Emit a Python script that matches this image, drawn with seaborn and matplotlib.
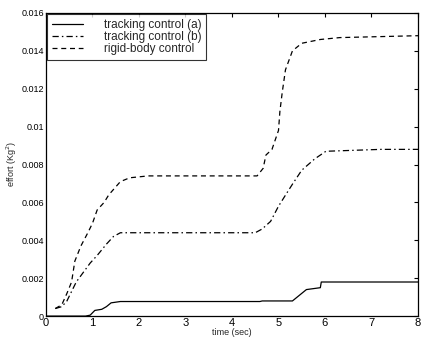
import matplotlib
matplotlib.use("Agg")
import matplotlib.pyplot as plt
import seaborn as sns
import numpy as np

# ---- data ----
t_a = [0, 0.85, 0.95, 1.05, 1.2, 1.3, 1.4, 1.6, 2.5, 4.6, 4.65, 5.3, 5.45, 5.6, 5.9, 5.92, 8]
eff_a = [0, 0, 0.00005, 0.0003, 0.00036, 0.0005, 0.0007, 0.00077, 0.00077, 0.00077, 0.0008,
         0.0008, 0.0011, 0.0014, 0.0015, 0.0018, 0.0018]

t_b = [0.2, 0.34, 0.45, 0.55, 0.65, 0.8, 0.95, 1.1, 1.3, 1.45, 1.6, 2.5, 4.5, 4.65, 4.83,
       5.0, 5.18, 5.31, 5.5, 5.78, 6.02, 7.2, 8]
eff_b = [0.0004, 0.0005, 0.0008, 0.0013, 0.0018, 0.0023, 0.0028, 0.0032, 0.0038, 0.0042,
         0.0044, 0.0044, 0.0044, 0.0046, 0.005, 0.0058, 0.0065, 0.007, 0.0077, 0.0083,
         0.0087, 0.0088, 0.0088]

t_r = [0.2, 0.34, 0.45, 0.55, 0.62, 0.75, 0.9, 1.0, 1.1, 1.25, 1.35, 1.6, 1.8, 2.2, 4.54,
       4.67, 4.73, 4.86, 5.0, 5.03, 5.08, 5.15, 5.3, 5.5, 5.9, 6.32, 8]
eff_r = [0.0004, 0.0006, 0.0012, 0.0018, 0.0029, 0.0037, 0.0044, 0.0049, 0.0056, 0.006,
         0.0064, 0.0071, 0.0073, 0.0074, 0.0074, 0.0078, 0.0085, 0.0088, 0.0098, 0.0108,
         0.0118, 0.013, 0.014, 0.0144, 0.0146, 0.0147, 0.0148]

labels = ["tracking control (a)", "tracking control (b)", "rigid-body control"]
x_ticks = [0, 1, 2, 3, 4, 5, 6, 7, 8]
y_ticks = [0, 0.002, 0.004, 0.006, 0.008, 0.01, 0.012, 0.014, 0.016]
y_tick_labels = ["0", "0.002", "0.004", "0.006", "0.008", "0.01", "0.012", "0.014", "0.016"]

sns.set_style("white")
plt.rcParams['font.family'] = ['Liberation Sans', 'DejaVu Sans']

fig = plt.figure(figsize=(4.22, 3.41), dpi=100)
ax = fig.add_axes([0.109, 0.073, 0.8815, 0.889])

sns.lineplot(x=t_a, y=eff_a, ax=ax, color="black", lw=0.9, label=labels[0], sort=False)
sns.lineplot(x=t_b, y=eff_b, ax=ax, color="black", lw=0.9, label=labels[1], sort=False,
             dashes=False)
sns.lineplot(x=t_r, y=eff_r, ax=ax, color="black", lw=0.9, label=labels[2], sort=False)

lines = ax.get_lines()
lines[1].set_dashes([5, 2.5, 1.2, 2.5])
lines[2].set_dashes([4, 3])

ax.set_xlim(0, 8)
ax.set_ylim(0, 0.016)
ax.set_xticks(x_ticks)
ax.set_xticklabels([str(v) for v in x_ticks], fontsize=8)
ax.set_yticks(y_ticks)
ax.set_yticklabels(y_tick_labels, fontsize=6.5)
ax.tick_params(direction="in", length=3, width=0.8, top=True, right=True, pad=1.5,
               colors="black")
for s in ax.spines.values():
    s.set_visible(True)
    s.set_color("black")
    s.set_linewidth(0.9)

ax.set_xlabel("time (sec)", fontsize=6.5, labelpad=0)
ax.set_ylabel("effort (Kg$^2$)", fontsize=6.5, labelpad=2)

leg = ax.legend(loc="upper left", fontsize=8.5, frameon=True, fancybox=False,
                borderaxespad=0.1, labelspacing=0.0, handlelength=2.6,
                handletextpad=1.8, borderpad=0.4)
leg.get_frame().set_edgecolor("black")
leg.get_frame().set_linewidth(0.8)

fig.savefig("out.png", dpi=100)
